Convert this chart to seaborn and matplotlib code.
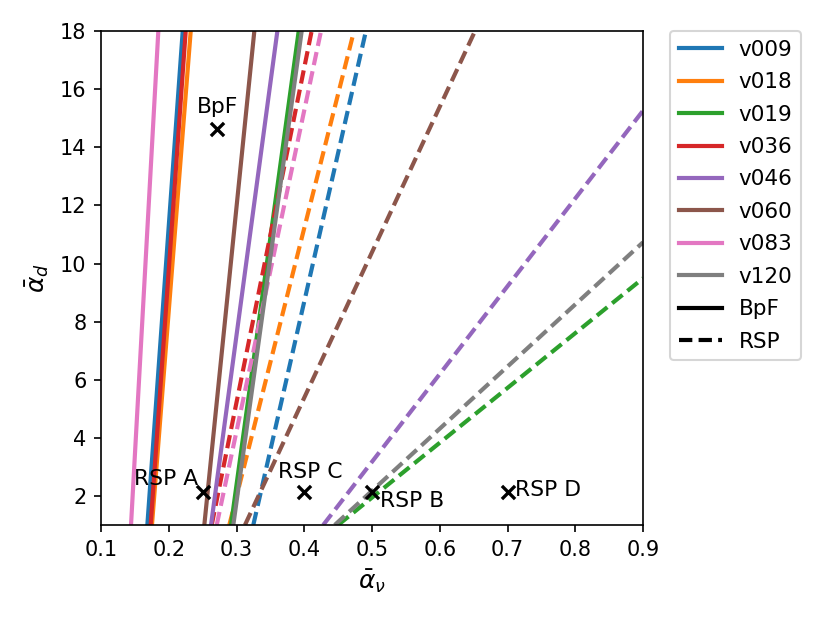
import numpy as np
import pandas as pd
import seaborn as sns
import matplotlib.pyplot as plt
from matplotlib.lines import Line2D

# versions (tab10 order)
versions = ['v009', 'v018', 'v019', 'v036', 'v046', 'v060', 'v083', 'v120']
cores = sns.color_palette('tab10', 8)

# BpF limits: alpha_nu at alpha_d = 1 and alpha_d = 18
bpf_nu_lo = [0.1684, 0.1752, 0.2919, 0.1733, 0.2624, 0.2525, 0.1443, 0.2953]
bpf_nu_hi = [0.2206, 0.2324, 0.3918, 0.2250, 0.3603, 0.3263, 0.1846, 0.3962]
bpf_d_lo = [1] * 8
bpf_d_hi = [18] * 8

# RSP limits (some leave the plot on the right at alpha_nu = 0.9)
rsp_nu_lo = [0.3248, 0.2894, 0.450, 0.2634, 0.428, 0.3125, 0.2708, 0.445]
rsp_nu_hi = [0.491, 0.4734, 0.9, 0.4109, 0.9, 0.652, 0.4247, 0.9]
rsp_d_lo = [1] * 8
rsp_d_hi = [18, 18, 9.49, 18, 15.26, 18, 18, 10.73]

# sample points
pontos_nome = ['BpF', 'RSP A', 'RSP C', 'RSP B', 'RSP D']
pontos_nu = [0.271, 0.25, 0.40, 0.50, 0.70]
pontos_d = [14.63, 2.14, 2.14, 2.14, 2.14]
texto_nu = [0.241, 0.149, 0.361, 0.512, 0.711]
texto_d = [15.18, 2.38, 2.62, 1.62, 2.0]

linhas = []
for i, v in enumerate(versions):
    linhas.append((v, 'BpF', bpf_nu_lo[i], bpf_d_lo[i]))
    linhas.append((v, 'BpF', bpf_nu_hi[i], bpf_d_hi[i]))
for i, v in enumerate(versions):
    linhas.append((v, 'RSP', rsp_nu_lo[i], rsp_d_lo[i]))
    linhas.append((v, 'RSP', rsp_nu_hi[i], rsp_d_hi[i]))
dados = pd.DataFrame(linhas, columns=['versao', 'metodo', 'nu', 'd'])

lw = 2.0

fig = plt.figure(figsize=(830 / 150, 622 / 150), dpi=150)
ax = fig.add_axes([0.1217, 0.156, 0.6530, 0.794])

sns.lineplot(data=dados, x='nu', y='d', hue='versao', style='metodo',
             palette=dict(zip(versions, cores)), hue_order=versions,
             dashes={'BpF': '', 'RSP': (3.2, 1.5)}, estimator=None,
             sort=False, linewidth=lw, legend=False, ax=ax)

ax.scatter(pontos_nu, pontos_d, marker='x', color='black', s=40,
           linewidths=1.6, zorder=5)
for nome, tx, ty in zip(pontos_nome, texto_nu, texto_d):
    ax.text(tx, ty, nome, fontsize=10.5)

ax.set_xlim(0.1, 0.9)
ax.set_ylim(1, 18)
ax.set_xticks(np.arange(0.1, 0.91, 0.1))
ax.set_yticks(np.arange(2, 19, 2))
ax.tick_params(labelsize=10)
ax.set_xlabel(r'$\bar{\alpha}_\nu$', fontsize=12)
ax.set_ylabel(r'$\bar{\alpha}_d$', fontsize=12)

handles = [Line2D([0], [0], color=c, lw=lw) for c in cores]
handles += [Line2D([0], [0], color='black', lw=lw),
            Line2D([0], [0], color='black', lw=lw, ls=(0, (3.2, 1.5)))]
ax.legend(handles, versions + ['BpF', 'RSP'], loc='upper left',
          bbox_to_anchor=(1.05, 1.0), borderaxespad=0, labelspacing=0.58,
          fontsize=10.3)

fig.savefig('out.png', dpi=150)
